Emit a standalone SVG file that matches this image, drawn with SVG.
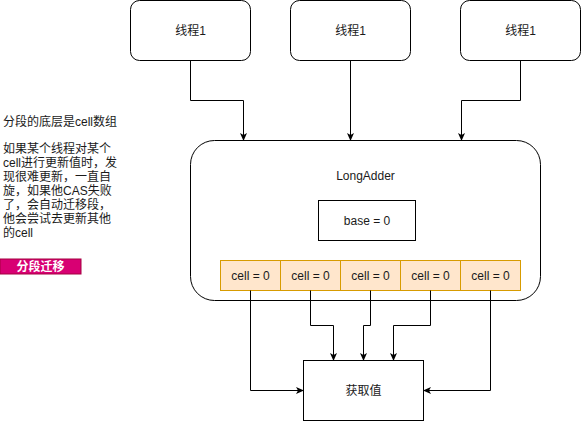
<svg xmlns="http://www.w3.org/2000/svg" width="581" height="421" viewBox="0 0 581 421">
  <style>
    text { font-family: "Liberation Sans", "Noto Sans CJK SC", sans-serif; font-size: 12px; fill: #1a1a1a; }
    .c { text-anchor: middle; }
    .box { fill: #ffffff; stroke: #000000; stroke-width: 1; }
    .cell { fill: #ffe6cc; stroke: #d79b00; stroke-width: 1; }
    .edge { fill: none; stroke: #000000; stroke-width: 1; marker-end: url(#arrow); }
  </style>
  <defs>
    <marker id="arrow" viewBox="0 0 8 8" refX="7.5" refY="4" markerWidth="8" markerHeight="8" markerUnits="userSpaceOnUse" orient="auto">
      <path d="M0,0.5 L8,4 L0,7.5 L2,4 Z" fill="#000000"/>
    </marker>
  </defs>

  <rect width="581" height="421" fill="#ffffff"/>

  <!-- side notes -->
  <g id="notes">
    <text x="3" y="125.5">分段的底层是cell数组</text>
    <text x="3" y="152.5">如果某个线程对某个</text>
    <text x="3" y="166.5">cell进行更新值时，发</text>
    <text x="3" y="180.5">现很难更新，一直自</text>
    <text x="3" y="194.5">旋，如果他CAS失败</text>
    <text x="3" y="208.5">了，会自动迁移段，</text>
    <text x="3" y="222.5">他会尝试去更新其他</text>
    <text x="3" y="236.5">的cell</text>
  </g>
  <g id="tag">
    <rect x="0" y="259" width="81" height="15" fill="#d80073" stroke="#a50040" stroke-width="1"/>
    <text x="40.5" y="271" class="c" style="fill:#ffffff;font-weight:bold">分段迁移</text>
  </g>

  <!-- threads -->
  <g id="thread-a">
    <rect x="130.5" y="0.5" width="120" height="60" rx="9" class="box"/>
    <text x="190.5" y="34.5" class="c">线程1</text>
  </g>
  <g id="thread-b">
    <rect x="290.5" y="0.5" width="120" height="60" rx="9" class="box"/>
    <text x="350.5" y="34.5" class="c">线程1</text>
  </g>
  <g id="thread-c">
    <rect x="460.5" y="0.5" width="120" height="60" rx="9" class="box"/>
    <text x="520.5" y="34.5" class="c">线程1</text>
  </g>

  <!-- LongAdder container -->
  <g id="long-adder">
    <rect x="190.5" y="140.5" width="350" height="160" rx="24" class="box"/>
    <text x="365.5" y="180" class="c">LongAdder</text>
  </g>
  <g id="base">
    <rect x="318.5" y="200.5" width="97" height="40" class="box"/>
    <text x="367" y="224.5" class="c">base = 0</text>
  </g>
  <g id="cell-1">
    <rect x="220.5" y="260.5" width="60" height="30" class="cell"/>
    <text x="250.5" y="279.5" class="c">cell = 0</text>
  </g>
  <g id="cell-2">
    <rect x="280.5" y="260.5" width="60" height="30" class="cell"/>
    <text x="310.5" y="279.5" class="c">cell = 0</text>
  </g>
  <g id="cell-3">
    <rect x="340.5" y="260.5" width="60" height="30" class="cell"/>
    <text x="370.5" y="279.5" class="c">cell = 0</text>
  </g>
  <g id="cell-4">
    <rect x="400.5" y="260.5" width="60" height="30" class="cell"/>
    <text x="430.5" y="279.5" class="c">cell = 0</text>
  </g>
  <g id="cell-5">
    <rect x="460.5" y="260.5" width="60" height="30" class="cell"/>
    <text x="490.5" y="279.5" class="c">cell = 0</text>
  </g>

  <!-- result -->
  <g id="get-value">
    <rect x="303.5" y="360.5" width="120" height="60" class="box"/>
    <text x="363.5" y="394.5" class="c">获取值</text>
  </g>

  <!-- connectors -->
  <g id="connectors">
    <path d="M190.5,60.5 V100.5 H243.5 V140.5" class="edge"/>
    <path d="M350.5,60.5 V140.5" class="edge"/>
    <path d="M520.5,60.5 V100.5 H461.5 V140.5" class="edge"/>

    <path d="M250.5,290.5 V390.5 H303.5" class="edge"/>
    <path d="M310.5,290.5 V325.5 H333.5 V360.5" class="edge"/>
    <path d="M370.5,290.5 V325.5 H363.5 V360.5" class="edge"/>
    <path d="M430.5,290.5 V325.5 H393.5 V360.5" class="edge"/>
    <path d="M490.5,290.5 V390.5 H423.5" class="edge"/>
  </g>
</svg>
